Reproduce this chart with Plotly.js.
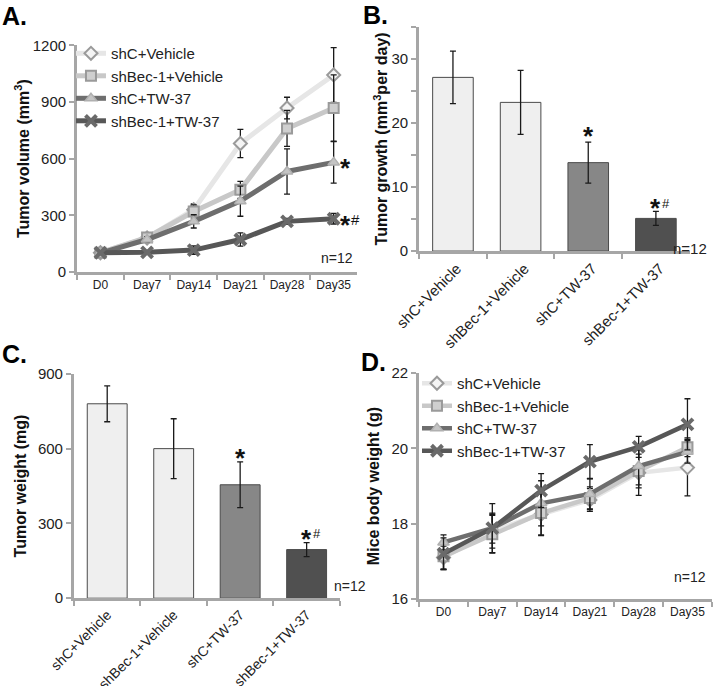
<!DOCTYPE html>
<html>
<head>
<meta charset="utf-8">
<script src="https://cdn.plot.ly/plotly-3.0.1.min.js"></script>
<style>
  html, body { margin: 0; padding: 0; background: #fff; }
  #chart { width: 714px; height: 686px; }
</style>
</head>
<body>
<div id="chart"></div>
<script>
// categories
const days = ['D0', 'Day7', 'Day14', 'Day21', 'Day28', 'Day35'];
const groups = ['shC+Vehicle', 'shBec-1+Vehicle', 'shC+TW-37', 'shBec-1+TW-37'];

// A. tumor volume (mm3)
const volShcVeh = [102, 180, 330, 680, 868, 1043];
const volShcVehErr = [8, 15, 30, 75, 57, 145];
const volBecVeh = [102, 183, 320, 435, 760, 868];
const volBecVehErr = [8, 15, 35, 45, 95, 175];
const volShcTw = [100, 172, 268, 375, 532, 580];
const volShcTwErr = [8, 15, 35, 80, 120, 110];
const volBecTw = [102, 104, 116, 172, 268, 282];
const volBecTwErr = [8, 8, 22, 35, 16, 28];

// B. tumor growth (mm3 per day)
const growth = [27.1, 23.2, 13.8, 5.1];
const growthErr = [4.1, 5.0, 3.2, 1.1];

// C. tumor weight (mg)
const weight = [780, 600, 455, 195];
const weightErr = [72, 120, 92, 28];

// D. body weight (g)
const bwShcVeh = [17.1, 17.8, 18.25, 18.63, 19.35, 19.49];
const bwShcVehErr = [0.3, 0.45, 0.55, 0.3, 0.6, 0.75];
const bwBecVeh = [17.13, 17.72, 18.28, 18.68, 19.4, 20.03];
const bwBecVehErr = [0.35, 0.5, 0.6, 0.3, 0.45, 0.25];
const bwShcTw = [17.5, 17.88, 18.54, 18.79, 19.53, 19.91];
const bwShcTwErr = [0.2, 0.4, 0.6, 0.4, 0.5, 0.3];
const bwBecTw = [17.2, 17.88, 18.88, 19.65, 20.04, 20.64];
const bwBecTwErr = [0.42, 0.65, 0.45, 0.45, 0.28, 0.68];

const barColors = ['#efefef', '#efefef', '#878787', '#505050'];

const FONT = 'Liberation Sans, Arial, sans-serif';
const AXIS_GRAY = '#a6a6a6';

const errStyle = arr => ({ type: 'data', array: arr, visible: true, color: '#1a1a1a', thickness: 1.3, width: 3 });

const lineStyles = [
    { line: '#e6e6e6', marker: { symbol: 'diamond', size: 10, color: '#f4f4f4', line: { color: '#9a9a9a', width: 2 } } },
    { line: '#c8c8c8', marker: { symbol: 'square', size: 10, color: '#cfcfcf', line: { color: '#9a9a9a', width: 2 } } },
    { line: '#6e6e6e', marker: { symbol: 'triangle-up', size: 10, color: '#c4c4c4', line: { color: '#b0b0b0', width: 1.5 } } },
    { line: '#575757', marker: { symbol: 'x-thin-open', size: 11, color: '#6a6a6a', line: { color: '#6a6a6a', width: 4 } } }
];

function lineTrace(name, y, err, idx, xa, ya, legend) {
    const s = lineStyles[idx];
    return {
        x: days, y: y, name: name, type: 'scatter', mode: 'lines+markers',
        xaxis: xa, yaxis: ya, legend: legend,
        line: { color: s.line, width: 5 },
        marker: s.marker,
        error_y: errStyle(err),
        cliponaxis: false
    };
}

const data = [
    lineTrace(groups[0], volShcVeh, volShcVehErr, 0, 'x', 'y', 'legend'),
    lineTrace(groups[1], volBecVeh, volBecVehErr, 1, 'x', 'y', 'legend'),
    lineTrace(groups[2], volShcTw, volShcTwErr, 2, 'x', 'y', 'legend'),
    lineTrace(groups[3], volBecTw, volBecTwErr, 3, 'x', 'y', 'legend'),
    {
        x: groups, y: growth, type: 'bar', xaxis: 'x2', yaxis: 'y2', showlegend: false,
        marker: { color: barColors, line: { color: '#4a4a4a', width: 1 } },
        width: 0.6, error_y: errStyle(growthErr)
    },
    {
        x: groups, y: weight, type: 'bar', xaxis: 'x3', yaxis: 'y3', showlegend: false,
        marker: { color: barColors, line: { color: '#4a4a4a', width: 1 } },
        width: 0.6, error_y: errStyle(weightErr)
    },
    lineTrace(groups[0], bwShcVeh, bwShcVehErr, 0, 'x4', 'y4', 'legend2'),
    lineTrace(groups[1], bwBecVeh, bwBecVehErr, 1, 'x4', 'y4', 'legend2'),
    lineTrace(groups[2], bwShcTw, bwShcTwErr, 2, 'x4', 'y4', 'legend2'),
    lineTrace(groups[3], bwBecTw, bwBecTwErr, 3, 'x4', 'y4', 'legend2')
];
// thinner lines on the body weight panel
for (let i = 6; i < 10; i++) data[i].line.width = 4.5;

function xAxis(domain, anchor, extra) {
    return Object.assign({
        domain: domain, anchor: anchor, type: 'category',
        showline: true, linecolor: AXIS_GRAY, linewidth: 3,
        ticks: 'outside', tickcolor: AXIS_GRAY, ticklen: 5, tickwidth: 2,
        tickson: 'boundaries', showgrid: false, zeroline: false,
        tickfont: { family: FONT, size: 12, color: '#222' }
    }, extra);
}

function yAxis(domain, anchor, range, dtick, title, standoff) {
    return {
        domain: domain, anchor: anchor, range: range, dtick: dtick,
        showline: true, linecolor: AXIS_GRAY, linewidth: 3,
        ticks: 'outside', tickcolor: AXIS_GRAY, ticklen: 5, tickwidth: 2,
        showgrid: false, zeroline: false,
        tickfont: { family: FONT, size: 15, color: '#222' },
        title: { text: title, standoff: standoff, font: { family: FONT, size: 16, color: '#111', weight: 'bold' } }
    };
}

const starFont = { family: FONT, size: 26, color: '#111' };
const hashFont = { family: FONT, size: 14, color: '#111' };
const nFont = { family: FONT, size: 14, color: '#222' };
const letterFont = { family: FONT, size: 25, color: '#000' };

// star + optional hash, placed next to a data point
function mark(xref, yref, x, y, dx, dy, withHash, hashSize) {
    const out = [{ text: '<b>*</b>', xref: xref, yref: yref, x: x, y: y, xshift: dx, yshift: dy - 6, showarrow: false, font: starFont }];
    if (withHash) {
        out.push({ text: '#', xref: xref, yref: yref, x: x, y: y, xshift: dx + 10, yshift: dy - 1, showarrow: false, font: Object.assign({}, hashFont, { size: hashSize }) });
    }
    return out;
}

const annotations = [
    // panel letters
    { text: '<b>A.</b>', xref: 'paper', yref: 'paper', x: 0, y: 1.0, xanchor: 'left', yanchor: 'top', showarrow: false, font: letterFont },
    { text: '<b>B.</b>', xref: 'paper', yref: 'paper', x: 0.505, y: 1.002, xanchor: 'left', yanchor: 'top', showarrow: false, font: letterFont },
    { text: '<b>C.</b>', xref: 'paper', yref: 'paper', x: 0, y: 0.508, xanchor: 'left', yanchor: 'top', showarrow: false, font: letterFont },
    { text: '<b>D.</b>', xref: 'paper', yref: 'paper', x: 0.503, y: 0.496, xanchor: 'left', yanchor: 'top', showarrow: false, font: letterFont },
    ...mark('x', 'y', days[5], volShcTw[5], 12, 0, false),
    ...mark('x', 'y', days[5], volBecTw[5], 12, 0, true, 15),
    { text: 'n=12', xref: 'x domain', yref: 'y domain', x: 1, y: 0, xanchor: 'right', yanchor: 'bottom', xshift: -2, yshift: 4, showarrow: false, font: nFont },
    ...mark('x2', 'y2', groups[2], growth[2] + growthErr[2], 0, 12, false),
    ...mark('x2', 'y2', groups[3], growth[3] + growthErr[3], 0, 9, true, 13),
    { text: 'n=12', xref: 'x2 domain', yref: 'y2 domain', x: 1, y: 0, xanchor: 'left', yanchor: 'bottom', xshift: -19, yshift: -8, showarrow: false, font: Object.assign({}, nFont, { size: 15 }) },
    ...mark('x3', 'y3', groups[2], weight[2] + weightErr[2], 0, 10, false),
    ...mark('x3', 'y3', groups[3], weight[3] + weightErr[3], 0, 10, true, 13),
    { text: 'n=12', xref: 'x3 domain', yref: 'y3 domain', x: 1, y: 0, xanchor: 'left', yanchor: 'bottom', xshift: -8, yshift: 2, showarrow: false, font: nFont },
    { text: 'n=12', xref: 'x4 domain', yref: 'y4 domain', x: 1, y: 0, xanchor: 'right', yanchor: 'bottom', xshift: -4, yshift: 12, showarrow: false, font: nFont }
];

const legendBase = {
    bgcolor: 'rgba(0,0,0,0)', borderwidth: 0,
    font: { family: FONT, size: 15, color: '#222' },
    xanchor: 'left', yanchor: 'top', itemwidth: 30, tracegroupgap: 0
};

const layout = {
    width: 714, height: 686,
    margin: { l: 0, r: 0, t: 0, b: 0 },
    paper_bgcolor: '#fff', plot_bgcolor: '#fff',
    font: { family: FONT, color: '#222' },
    showlegend: true,
    legend: Object.assign({ x: 0.0994, y: 0.946 }, legendBase),
    legend2: Object.assign({ x: 0.584, y: 0.465 }, legendBase),
    xaxis: xAxis([0.108, 0.5], 'y', { range: [-0.5, 5.5] }),
    yaxis: yAxis([0.6035, 0.934], 'x', [0, 1200], 300, 'Tumor volume (mm<sup>3</sup>)', 0),
    xaxis2: xAxis([0.587, 0.966], 'y2', { range: [-0.5, 3.5], tickangle: -45, ticklabelshift: 4, tickfont: { family: FONT, size: 15, color: '#222' } }),
    yaxis2: Object.assign(yAxis([0.634, 0.961], 'x2', [0, 35], 10, 'Tumor growth (mm<sup>3</sup>per day)', 0), { minor: { dtick: 5, ticks: 'outside', ticklen: 5, tickwidth: 2, tickcolor: AXIS_GRAY } }),
    xaxis3: xAxis([0.1036, 0.476], 'y3', { range: [-0.5, 3.5], tickangle: -45, tickfont: { family: FONT, size: 14, color: '#222' } }),
    yaxis3: yAxis([0.128, 0.455], 'x3', [0, 900], 300, 'Tumor weight (mg)', 8),
    xaxis4: xAxis([0.587, 0.997], 'y4', { range: [-0.5, 5.5] }),
    yaxis4: yAxis([0.127, 0.456], 'x4', [16, 22], 2, 'Mice body weight (g)', 8),
    annotations: annotations
};

Plotly.newPlot('chart', data, layout, { displayModeBar: false, staticPlot: true });
</script>
</body>
</html>
